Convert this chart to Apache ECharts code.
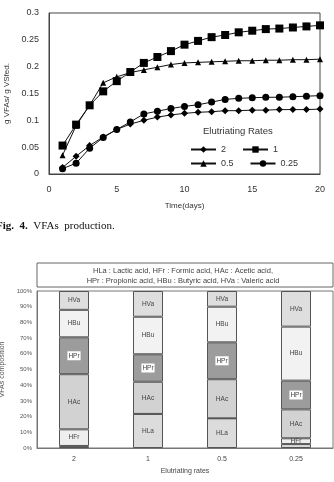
<!DOCTYPE html>
<html>
<head>
<meta charset="utf-8">
<script src="https://cdn.jsdelivr.net/npm/echarts@6/dist/echarts.min.js"></script>
<style>
html, body { margin: 0; padding: 0; background: #fff; }
#main { width: 334px; height: 482px; }
</style>
</head>
<body>
<div id="main"></div>
<script>
// Fig. 4 - VFAs production (g VFAs / g VSfed) per elutriating rate
const days = [1, 2, 3, 4, 5, 6, 7, 8, 9, 10, 11, 12, 13, 14, 15, 16, 17, 18, 19, 20]
const rate2 = [0.012, 0.033, 0.053, 0.069, 0.083, 0.093, 0.1, 0.106, 0.11, 0.113, 0.115, 0.116, 0.118, 0.118, 0.119, 0.119, 0.12, 0.12, 0.12, 0.121]
const rate1 = [0.053, 0.092, 0.128, 0.154, 0.173, 0.19, 0.207, 0.218, 0.229, 0.241, 0.248, 0.255, 0.259, 0.264, 0.267, 0.27, 0.271, 0.273, 0.275, 0.277]
const rate05 = [0.035, 0.09, 0.128, 0.17, 0.181, 0.189, 0.194, 0.199, 0.204, 0.207, 0.208, 0.209, 0.21, 0.211, 0.211, 0.212, 0.212, 0.213, 0.213, 0.214]
const rate025 = [0.01, 0.02, 0.048, 0.068, 0.083, 0.097, 0.112, 0.117, 0.122, 0.126, 0.129, 0.134, 0.139, 0.141, 0.142, 0.143, 0.143, 0.144, 0.145, 0.146]

// VFAs composition (%) per elutriating rate
const barCategories = ['2', '1', '0.5', '0.25']
const hLa = [1.3, 21.7, 18.9, 2.5]
const hFr = [10.6, 0, 0, 3.7]
const hAc = [35.1, 20.5, 24.9, 18.4]
const hPr = [23.5, 17.5, 23.5, 18.3]
const hBu = [17.5, 23.9, 22.7, 34.4]
const hVa = [12.0, 16.4, 10.0, 22.7]

const chart = echarts.init(document.getElementById('main'))

const lineSeries = (name, values, symbol, size) => ({
  name: name,
  type: 'line',
  xAxisIndex: 0,
  yAxisIndex: 0,
  data: days.map((d, i) => [d, values[i]]),
  symbol: symbol,
  symbolSize: size,
  color: '#000',
  lineStyle: { color: '#111', width: 1 },
  itemStyle: { color: '#000' },
  animation: false,
})

const barSeries = (name, values, color, labelBg) => ({
  name: name,
  type: 'bar',
  stack: 'vfa',
  xAxisIndex: 1,
  yAxisIndex: 1,
  barWidth: 30,
  data: values.map(v => ({
    value: v,
    label: { show: v > 3 },
  })),
  itemStyle: { color: color, borderColor: '#555', borderWidth: 1 },
  label: {
    position: 'inside',
    formatter: name,
    fontSize: 6.5,
    color: '#444',
    backgroundColor: labelBg,
    padding: labelBg ? [1, 1] : 0,
  },
  animation: false,
})

const option = {
  grid: [
    { left: 49, top: 13, width: 271, height: 161, outerBoundsMode: 'none', show: true, borderColor: '#444', borderWidth: 1, backgroundColor: '#fff' },
    { left: 37, top: 291, width: 296, height: 157, outerBoundsMode: 'none', show: true, borderColor: '#777', borderWidth: 1, backgroundColor: '#fff' },
  ],
  xAxis: [
    {
      gridIndex: 0,
      type: 'value',
      min: 0,
      max: 20,
      interval: 5,
      name: 'Time(days)',
      nameLocation: 'middle',
      nameGap: 28,
      nameTextStyle: { fontSize: 8, color: '#333' },
      axisLine: { lineStyle: { color: '#444' } },
      axisTick: { show: false },
      axisLabel: { fontSize: 9, color: '#333', margin: 11 },
      splitLine: { show: false },
    },
    {
      gridIndex: 1,
      type: 'category',
      data: barCategories,
      name: 'Elutriating rates',
      nameLocation: 'middle',
      nameGap: 20,
      nameTextStyle: { fontSize: 7, color: '#444' },
      axisLine: { lineStyle: { color: '#777' } },
      axisTick: { show: false },
      axisLabel: { fontSize: 7, color: '#444', margin: 8 },
    },
  ],
  yAxis: [
    {
      gridIndex: 0,
      type: 'value',
      min: 0,
      max: 0.3,
      interval: 0.05,
      name: 'g VFAs/ g VSfed.',
      nameLocation: 'middle',
      nameGap: 37,
      nameTextStyle: { fontSize: 8, color: '#333' },
      axisLine: { show: true, lineStyle: { color: '#444' } },
      axisTick: { show: false },
      axisLabel: { fontSize: 9, color: '#333', margin: 10 },
      splitLine: { show: false },
    },
    {
      gridIndex: 1,
      type: 'value',
      min: 0,
      max: 100,
      interval: 10,
      name: 'VFAs composition',
      nameLocation: 'middle',
      nameGap: 28,
      nameTextStyle: { fontSize: 7, color: '#555' },
      axisLine: { show: true, lineStyle: { color: '#777' } },
      axisTick: { show: false },
      axisLabel: { fontSize: 6, color: '#555', margin: 5, formatter: '{value}%' },
      splitLine: { show: false },
    },
  ],
  legend: [
    {
      data: ['2', '1'],
      left: 185,
      top: 140,
      itemWidth: 25,
      itemHeight: 8,
      itemGap: 16,
      textStyle: { fontSize: 9, color: '#333', width: 30 },
    },
    {
      data: ['0.5', '0.25'],
      left: 185,
      top: 154,
      itemWidth: 25,
      itemHeight: 8,
      itemGap: 16,
      textStyle: { fontSize: 9, color: '#333', width: 30 },
    },
  ],
  series: [
    lineSeries('2', rate2, 'diamond', 7),
    lineSeries('1', rate1, 'rect', 8),
    lineSeries('0.5', rate05, 'triangle', 6),
    lineSeries('0.25', rate025, 'circle', 7),
    barSeries('HLa', hLa, '#dcdcdc', null),
    barSeries('HFr', hFr, '#eeeeee', null),
    barSeries('HAc', hAc, '#d2d2d2', null),
    barSeries('HPr', hPr, '#9c9c9c', '#fff'),
    barSeries('HBu', hBu, '#f2f2f2', null),
    barSeries('HVa', hVa, '#dedede', null),
  ],
  graphic: [
    {
      type: 'text',
      left: 203,
      top: 126,
      style: { text: 'Elutriating Rates', fontSize: 9.5, fill: '#333' },
    },
    {
      type: 'text',
      x: -4,
      y: 221,
      style: {
        text: '{b|Fig.  4.}  VFAs  production.',
        fontFamily: 'Liberation Serif',
        fontSize: 11,
        fill: '#111',
        rich: { b: { fontWeight: 'bold', fontFamily: 'Liberation Serif', fontSize: 11 } },
      },
    },
    {
      type: 'rect',
      shape: { x: 37, y: 263, width: 296, height: 24 },
      style: { fill: '#fff', stroke: '#666', lineWidth: 1 },
    },
    {
      type: 'text',
      x: 183,
      y: 271,
      style: {
        text: 'HLa : Lactic acid, HFr : Formic acid, HAc : Acetic acid,',
        fontSize: 7.5,
        fill: '#444',
        align: 'center',
        verticalAlign: 'middle',
      },
    },
    {
      type: 'text',
      x: 183,
      y: 281,
      style: {
        text: 'HPr : Propionic acid, HBu : Butyric acid, HVa : Valeric acid',
        fontSize: 7.5,
        fill: '#444',
        align: 'center',
        verticalAlign: 'middle',
      },
    },
  ],
}

chart.setOption(option)
</script>
</body>
</html>
